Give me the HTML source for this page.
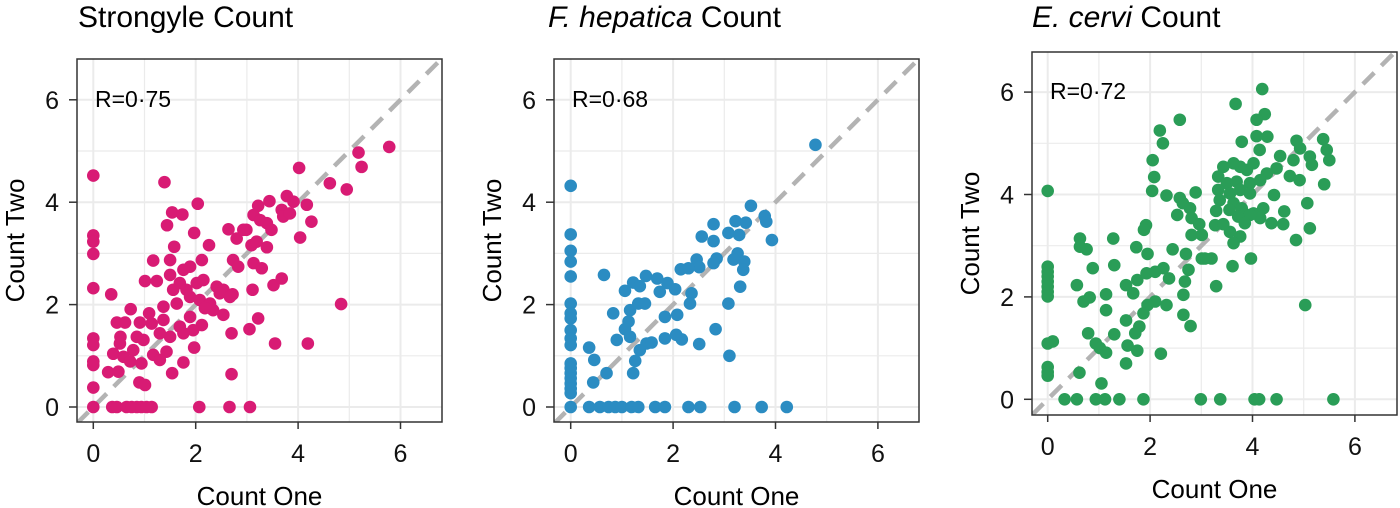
<!DOCTYPE html>
<html><head><meta charset="utf-8"><style>
body{margin:0;background:#fff;}
svg{display:block;font-family:"Liberation Sans",sans-serif;}
</style></head><body>
<svg id="chart" width="1400" height="508" viewBox="0 0 1400 508"></svg>
<script>
const xTicks=[0,2,4,6];
const yTicks=[0,2,4,6];
const strongyleX=[0,0,0,0,0,0,0,0,0,0,0,0.37,0.46,0.65,0.75,0.85,0.94,1.04,1.14,2.07,2.66,3.06,
1.39,2.04,1.54,1.74,1.44,1.97,2.26,1.58,1.17,1.50,2.12,1.89,1.01,1.24,1.50,1.76,0.35,0.73,1.09,0.46,0.62,0.91,1.37,1.63,1.82,2.02,2.15,1.56,1.69,1.89,2.08,2.28,2.41,2.54,2.34,2.54,2.12,1.95,1.69,1.50,1.30,1.14,1.37,0.53,0.85,0.52,0.78,0.98,0.39,0.59,0.72,0.94,1.17,1.43,1.30,1.76,1.97,0.29,0.49,1.54,2.70,0.90,1.01,2.70,3.05,3.22,2.72,3.11,3.55,4.19,4.84,3.52,3.68,3.13,3.29,2.73,2.83,3.09,3.19,3.39,2.64,2.99,2.80,3.13,3.22,3.44,3.26,3.39,3.48,3.68,3.78,3.91,3.71,3.84,4.17,4.26,4.04,4.02,4.62,4.95,5.18,5.24,5.78,2.93,2.47,2.18,1.89,1.76,2.67];
const strongyleY=[4.52,3.35,3.23,2.99,2.32,1.34,1.21,0.89,0.82,0.38,0,0,0,0,0,0,0,0,0,0,0,0,
4.39,3.97,3.80,3.76,3.55,3.40,3.16,3.13,2.86,2.87,2.87,2.74,2.46,2.46,2.58,2.68,2.20,1.91,1.83,1.65,1.65,1.65,1.96,2.02,2.29,2.42,2.48,2.29,2.42,2.15,2.09,2.02,2.35,2.29,1.89,1.80,1.60,1.50,1.57,1.37,1.44,1.63,1.70,1.37,1.37,1.24,1.11,1.31,1.04,0.98,0.89,0.85,1.02,1.08,0.92,0.87,1.16,0.68,0.69,0.66,0.64,0.48,0.43,1.44,1.52,1.73,2.20,2.29,1.24,1.24,2.01,2.38,2.51,2.81,2.71,2.87,2.74,3.16,3.23,3.12,3.47,3.46,3.29,3.75,3.93,4.02,3.65,3.59,3.46,3.85,4.12,4.01,3.72,3.78,3.95,3.62,3.31,4.67,4.37,4.25,4.97,4.69,5.08,3.46,2.22,1.93,1.76,1.44,2.15];
const hepaticaX=[0,0,0,0,0,0,0,0,0,0,0,0,0,0,0,0,0,0,0,0.36,0.57,0.74,0.87,1.00,1.19,1.32,1.65,1.84,2.30,2.53,3.20,3.73,4.22,
4.78,3.52,3.79,3.82,3.93,2.79,3.22,3.42,3.08,3.29,2.56,2.79,3.26,3.18,3.39,3.37,2.85,2.79,2.46,2.51,2.15,2.30,3.31,3.08,2.83,3.10,2.51,0.65,1.06,1.22,1.35,1.47,1.69,1.89,2.04,1.74,2.36,2.33,0.83,1.16,1.32,1.45,1.13,1.06,1.84,2.08,0.90,1.16,1.48,1.58,1.84,2.06,2.17,1.35,1.26,1.22,0.36,0.46,0.70,0.44];
const hepaticaY=[4.32,3.37,3.05,2.84,2.55,2.02,1.83,1.73,1.50,1.34,1.21,0.85,0.76,0.66,0.56,0.46,0.36,0.27,0,0,0,0,0,0,0,0,0,0,0,0,0,0,0,
5.12,3.93,3.73,3.62,3.26,3.57,3.63,3.60,3.40,3.36,3.33,3.24,3.00,2.88,2.84,2.68,2.90,2.81,2.88,2.73,2.69,2.71,2.35,2.02,1.52,1.00,1.23,2.58,2.27,2.43,2.36,2.56,2.51,2.42,2.30,2.25,2.22,2.02,1.83,1.89,2.02,2.02,1.67,1.52,1.76,1.80,1.31,1.37,1.24,1.26,1.34,1.41,1.32,1.11,0.90,0.66,1.16,0.92,0.66,0.48];
const cerviX=[0,0,0,0,0,0,0,0,0.1,0,0,0,0,0.33,0.57,0.94,1.12,1.40,1.87,2.99,3.37,4.04,4.13,4.47,5.58,
4.19,3.67,2.58,4.24,4.08,2.19,2.25,4.08,4.29,3.79,4.14,4.86,5.38,5.45,5.50,4.93,5.12,5.16,4.54,4.80,4.47,4.28,4.73,4.92,5.40,4.02,3.89,3.76,3.63,3.43,3.33,3.50,3.69,3.95,4.15,3.33,3.56,3.76,3.95,3.36,3.63,3.79,3.29,3.55,4.02,4.21,4.42,4.62,5.07,5.12,4.85,4.60,4.37,4.15,3.95,3.72,3.85,3.76,3.56,3.63,3.27,3.43,3.97,3.61,3.29,3.01,3.20,3.07,5.03,2.05,2.08,2.04,2.32,2.58,2.89,2.64,2.78,2.53,2.81,2.96,2.81,3.01,1.92,1.88,2.44,2.70,1.95,1.73,1.28,0.63,0.63,0.76,1.30,0.88,0.57,0.70,0.82,1.14,1.14,1.53,1.67,1.75,1.93,2.10,2.26,2.37,2.75,2.68,2.65,2.32,2.10,1.95,1.87,2.65,2.79,1.53,1.79,1.71,0.79,1.30,0.94,1.02,1.14,1.56,1.75,2.21,1.53,0.62,1.05];
const cerviY=[4.07,2.59,2.49,2.40,2.30,2.20,2.10,2.01,1.13,1.09,0.63,0.53,0.46,0,0,0,0,0,0,0,0,0,0,0,0,
6.06,5.77,5.46,5.57,5.46,5.25,5.00,5.14,5.13,5.03,4.87,5.05,5.08,4.87,4.67,4.90,4.74,4.58,4.75,4.67,4.51,4.41,4.36,4.28,4.20,4.61,4.48,4.54,4.61,4.54,4.35,4.22,4.25,4.22,4.28,4.09,4.02,4.09,4.02,3.89,3.83,3.73,3.68,3.70,3.63,3.73,3.99,3.67,3.83,3.34,3.11,3.42,3.44,3.54,3.60,3.57,3.44,3.18,3.27,3.05,3.40,3.42,2.75,2.60,2.21,2.75,2.75,2.75,1.84,4.67,4.34,4.07,3.98,3.93,4.04,3.83,3.73,3.60,3.54,3.42,3.21,3.21,3.40,3.31,2.93,2.84,2.84,2.97,3.14,3.14,2.98,2.93,2.62,2.56,2.23,1.91,1.99,2.05,1.74,2.23,2.07,2.33,2.46,2.49,2.56,2.36,2.53,2.30,2.04,1.84,1.91,1.84,1.68,1.65,1.43,1.54,1.42,1.29,1.29,1.27,1.09,1.00,0.91,1.05,0.95,0.89,0.70,0.52,0.31];
const rLabels=["R=0·75","R=0·68","R=0·72"];

const NS="http://www.w3.org/2000/svg";
const svg=document.getElementById('chart');
function mk(tag,attrs,parent){const e=document.createElementNS(NS,tag);for(const k in attrs)e.setAttribute(k,attrs[k]);(parent||svg).appendChild(e);return e;}
const panels=[
 {key:'strongyle',title:[['Strongyle',false],[' Count',false]],tx:78,L:77,R:442,T:59,B:422,x0:93.3,y0:407,xs:strongyleX,ys:strongyleY,col:'#d81b74'},
 {key:'hepatica',title:[['F. hepatica',true],[' Count',false]],tx:548,L:554,R:919,T:59,B:422,x0:570.7,y0:407,xs:hepaticaX,ys:hepaticaY,col:'#2b8cc2'},
 {key:'cervi',title:[['E. cervi',true],[' Count',false]],tx:1032,L:1032,R:1397,T:52,B:415,x0:1047.7,y0:399.3,xs:cerviX,ys:cerviY,col:'#2a9d57'}];
const U=51.2;
panels.forEach((p,i)=>{
 const sx=v=>p.x0+v*U, sy=v=>p.y0-v*U;
 const g=mk('g',{});
 
 
 const t=mk('text',{x:p.tx,y:27,'font-size':30,fill:'#000'},g);
 
 
 p.title.forEach(([s,it])=>{const ts=mk('tspan',it?{'font-style':'italic'}:{},t);ts.textContent=s;});
 mk('rect',{x:p.L,y:p.T,width:p.R-p.L,height:p.B-p.T,fill:'#fff'},g);
 const grid=mk('g',{stroke:'#ebebeb'},g);
 
 
 for(let v=0;v<=6.5;v+=1){const w=(v%2===0)?2:1.2;
  mk('line',{x1:sx(v),x2:sx(v),y1:p.T,y2:p.B,'stroke-width':w},grid);
  mk('line',{y1:sy(v),y2:sy(v),x1:p.L,x2:p.R,'stroke-width':w},grid);}
 const lo=(p.L-p.x0)/U, hi=(p.R-p.x0)/U;
 const clip=mk('clipPath',{id:'c'+i},g);mk('rect',{x:p.L,y:p.T,width:p.R-p.L,height:p.B-p.T},clip);
 const diag=mk('line',{x1:sx(lo),y1:sy(lo),x2:sx(hi),y2:sy(hi),stroke:'#b3b3b3','stroke-width':4.5,'stroke-dasharray':'16 10','clip-path':'url(#c'+i+')'},g);
 
 
 const pts=mk('g',{fill:p.col,'clip-path':'url(#c'+i+')'},g);
 
 
 p.xs.forEach((xv,j)=>{const c=mk('circle',{cx:sx(xv),cy:sy(p.ys[j]),r:6.3},pts);
  
  });
 mk('rect',{x:p.L,y:p.T,width:p.R-p.L,height:p.B-p.T,fill:'none',stroke:'#333','stroke-width':1.5},g);
 const r=mk('text',{x:p.L+18,y:sy(6)+7,'font-size':23},g);r.textContent=rLabels[i];
 
 
 xTicks.forEach(v=>{mk('line',{x1:sx(v),x2:sx(v),y1:p.B,y2:p.B+7,stroke:'#333','stroke-width':1.5},g);
  const tl=mk('text',{x:sx(v),y:p.B+40,'font-size':25,'text-anchor':'middle',fill:'#111'},g);tl.textContent=v;
  
  });
 yTicks.forEach(v=>{mk('line',{x1:p.L-8,x2:p.L,y1:sy(v),y2:sy(v),stroke:'#333','stroke-width':1.5},g);
  const tl=mk('text',{x:p.L-18,y:sy(v)+9,'font-size':25,'text-anchor':'end',fill:'#111'},g);tl.textContent=v;
  
  });
 const xt=mk('text',{x:(p.L+p.R)/2,y:p.B+83,'font-size':26,'text-anchor':'middle'},g);xt.textContent='Count One';
 
 
 const cy=(p.T+p.B)/2, cx=p.L-53;
 const yt=mk('text',{x:cx,y:cy,'font-size':26,'text-anchor':'middle',transform:`rotate(-90 ${cx} ${cy})`},g);yt.textContent='Count Two';
 
 
});
</script>
</body></html>
